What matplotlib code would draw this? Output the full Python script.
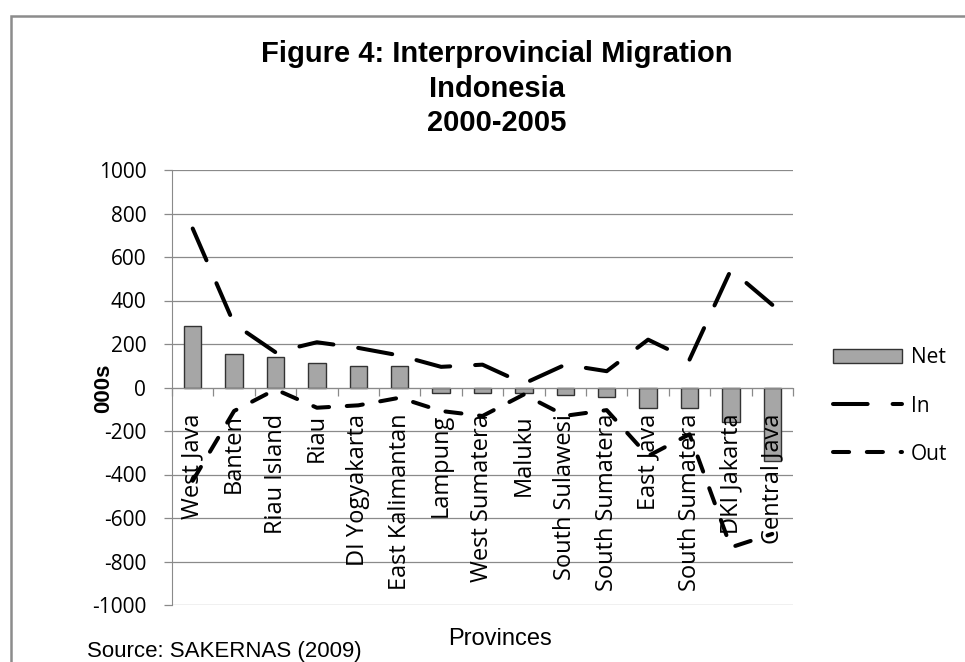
import numpy as np
import matplotlib
matplotlib.use('Agg')
import matplotlib.pyplot as plt
from matplotlib.patches import Rectangle

provinces = ['West Java', 'Banten', 'Riau Island', 'Riau', 'DI Yogyakarta',
             'East Kalimantan', 'Lampung', 'West Sumatera', 'Maluku',
             'South Sulawesi', 'South Sumatera', 'East Java', 'South Sumatera',
             'DKI Jakarta', 'Central Java']
net = [284, 154, 140, 113, 101, 101, -24, -24, -24, -35, -43, -93, -93, -159, -337]
inflow = [731, 292, 162, 208, 182, 147, 95, 105, 18, 105, 75, 220, 128, 541, 380]
outflow = [-429, -108, -9, -93, -82, -47, -108, -131, -32, -130, -104, -315, -215, -735, -673]
yticks = [1000, 800, 600, 400, 200, 0, -200, -400, -600, -800, -1000]

W, H = 965, 662
fig = plt.figure(figsize=(W / 100, H / 100), dpi=100)
ax = fig.add_axes([172 / W, 1 - 605 / H, (793 - 172) / W, (605 - 170) / H])

grid_c = '#8a8a8a'
x = np.arange(len(provinces))

# bars + lines
b = ax.bar(x, net, width=0.42, color='#a6a6a6', edgecolor='#333333', linewidth=1.0, zorder=2, label='Net')
l_in, = ax.plot(x, inflow, color='black', lw=2.9, linestyle=(0, (8.6, 6.2)),
                dash_capstyle='round', zorder=4, label='In')
l_out, = ax.plot(x, outflow, color='black', lw=2.9, linestyle=(0, (4.0, 4.4)),
                 dash_capstyle='round', zorder=4, label='Out')

ax.set_xlim(-0.5, len(provinces) - 0.5)
ax.set_ylim(-1000, 1000)
ax.set_yticks(yticks)
ax.set_yticklabels([str(v) for v in yticks], fontfamily='Open Sans', fontsize=15)
ax.yaxis.grid(True, color=grid_c, lw=0.9, zorder=0)
ax.set_axisbelow(True)
ax.tick_params(axis='y', direction='out', length=5.5, width=0.9, color=grid_c, pad=13)

# category axis sits at zero
ax.spines['bottom'].set_position(('data', 0))
ax.spines['bottom'].set_color(grid_c)
ax.spines['left'].set_color(grid_c)
ax.spines['top'].set_visible(False)
ax.spines['right'].set_visible(False)
ax.set_xticks(np.arange(-0.5, len(provinces), 1))
ax.set_xticklabels([])
ax.tick_params(axis='x', direction='out', length=6, width=0.9, color=grid_c)

for i, name in enumerate(provinces):
    ax.annotate(name, xy=(i, 0), xytext=(0, -19), textcoords='offset points',
                rotation=90, ha='center', va='top', fontsize=17,
                fontfamily='Open Sans', zorder=3)

# titles and labels
fig.text(497 / W, 1 - 40 / H, 'Figure 4: Interprovincial Migration\nIndonesia\n2000-2005',
         ha='center', va='top', fontsize=21, fontweight='bold',
         fontfamily='Liberation Sans', linespacing=1.3)
fig.text(104 / W, 1 - 388 / H, '000s', rotation=90, ha='center', va='center',
         fontsize=16, fontweight='bold', fontfamily='Liberation Sans')
fig.text(500 / W, 1 - 639 / H, 'Provinces', ha='center', va='center',
         fontsize=17, fontfamily='Liberation Sans')
fig.text(87 / W, 1 - 651 / H, 'Source: SAKERNAS (2009)', ha='left', va='center',
         fontsize=16, fontfamily='Liberation Sans')

leg = fig.legend([b, l_in, l_out], ['Net', 'In', 'Out'],
                 loc='center left', bbox_to_anchor=(833 / W, 1 - 406 / H),
                 frameon=False, prop={'family': 'Open Sans', 'size': 15},
                 handlelength=3.3, handletextpad=0.45, labelspacing=1.3,
                 borderpad=0, borderaxespad=0)

# outer chart border
fig.add_artist(Rectangle((11 / W, -0.5), 2, 1 - 16 / H + 0.5, transform=fig.transFigure,
                         fill=False, edgecolor='#8c8c8c', lw=1.8, clip_on=False))

fig.savefig('out.png', dpi=100)
